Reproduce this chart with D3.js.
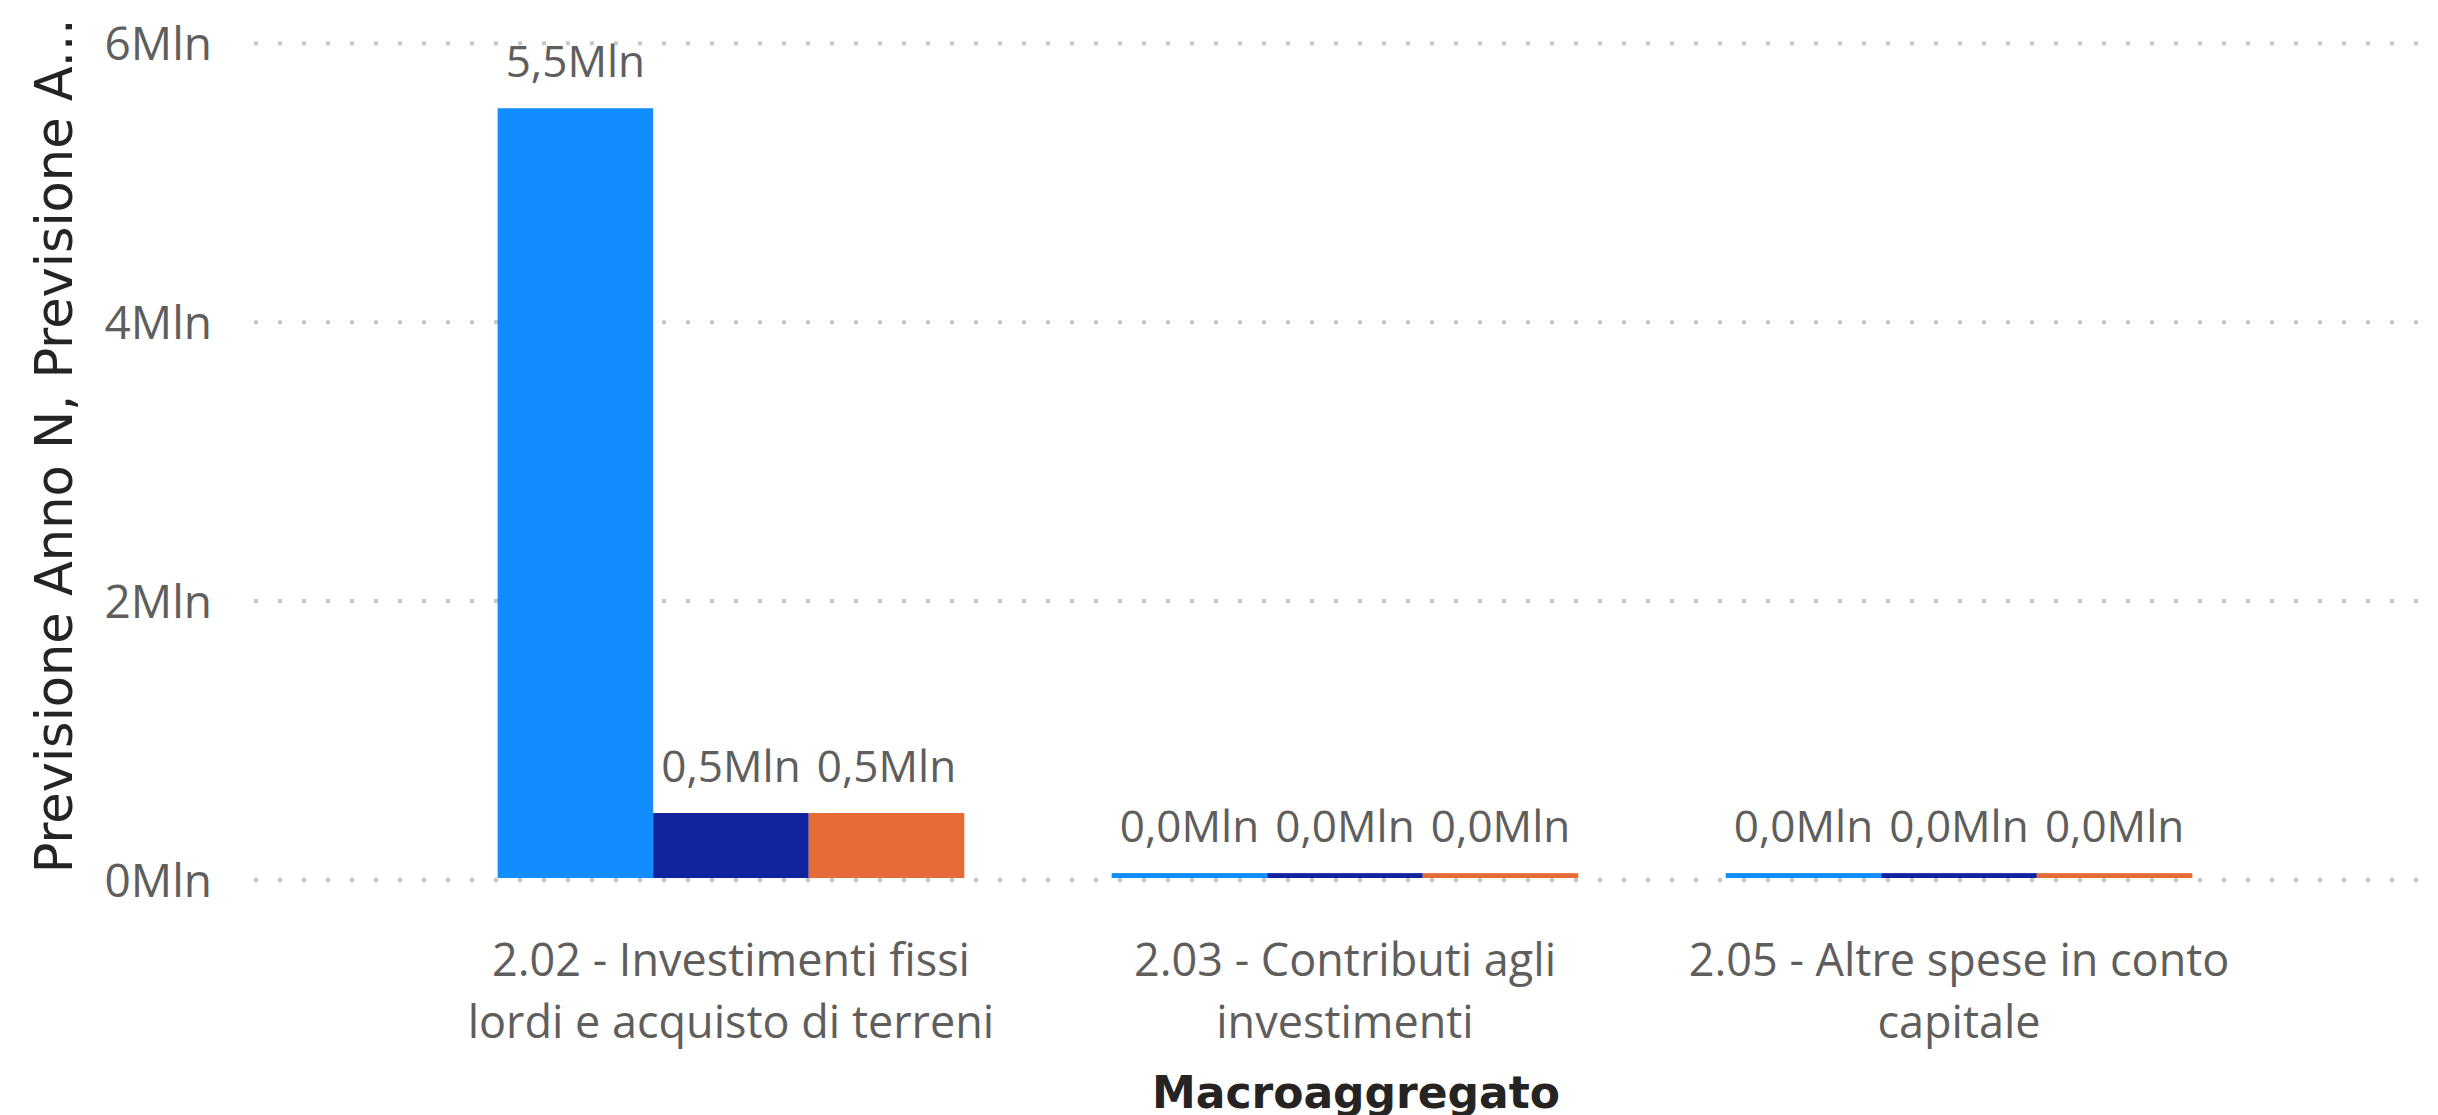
<!DOCTYPE html>
<html>
<head>
<meta charset="utf-8">
<script src="https://cdn.jsdelivr.net/npm/d3@7"></script>
<style>
    body { margin: 0; background: #fff; }
    svg { display: block; }
</style>
</head>
<body>
<div id="chart"></div>
<script>
const categories = [
    "2.02 - Investimenti fissi lordi e acquisto di terreni",
    "2.03 - Contributi agli investimenti",
    "2.05 - Altre spese in conto capitale"
];
const seriesNames = ["Previsione Anno N", "Previsione Anno N+1", "Previsione Anno N+2"];
const annoN = [5520000, 35000, 35000];
const annoN1 = [466000, 35000, 35000];
const annoN2 = [466000, 35000, 35000];
const yTicks = [0, 2000000, 4000000, 6000000];
const colors = ["#118DFF", "#12239E", "#E66C37"];

const seriesValues = [annoN, annoN1, annoN2];

document.addEventListener('DOMContentLoaded', function() {
    const width = 2438;
    const height = 1115;

    const it = d3.formatLocale({ decimal: ",", thousands: ".", grouping: [3], currency: ["€", ""] });
    const fmtLabel = v => it.format(".1f")(v / 1e6) + "Mln";
    const fmtTick = v => it.format(".0f")(v / 1e6) + "Mln";

    const svg = d3.select("#chart")
        .append("svg")
        .attr("width", width)
        .attr("height", height);

    const xScale = d3.scaleBand()
        .domain(categories)
        .range([252, width])
        .paddingInner(0.24)
        .paddingOuter(0.4);

    const xSub = d3.scaleBand()
        .domain(seriesNames)
        .range([0, xScale.bandwidth()]);

    const yScale = d3.scaleLinear()
        .domain([0, 6000000])
        .range([878, 41.3]);

    // dotted gridlines
    svg.append("g")
        .selectAll("line")
        .data(yTicks)
        .enter().append("line")
        .attr("x1", 254)
        .attr("x2", width)
        .attr("y1", d => yScale(d) + 2)
        .attr("y2", d => yScale(d) + 2)
        .style("stroke", "#C8C8C8")
        .style("stroke-width", 4)
        .style("stroke-dasharray", "4,20");

    // y tick labels
    svg.append("g")
        .selectAll("text")
        .data(yTicks)
        .enter().append("text")
        .attr("x", 212)
        .attr("y", d => yScale(d) + 2)
        .attr("dy", "0.36em")
        .style("text-anchor", "end")
        .style("font-family", "'Segoe UI', 'Open Sans', sans-serif")
        .style("font-size", "46px")
        .style("fill", "#605E5C")
        .text(fmtTick);

    // bars
    const rows = [];
    categories.forEach((c, i) => {
        seriesNames.forEach((s, j) => {
            rows.push({ cat: c, series: s, value: seriesValues[j][i], color: colors[j] });
        });
    });

    const groups = svg.append("g");

    groups.selectAll(".bar")
        .data(rows)
        .enter().append("rect")
        .attr("class", "bar")
        .attr("x", d => xScale(d.cat) + xSub(d.series))
        .attr("y", d => yScale(d.value))
        .attr("width", xSub.bandwidth())
        .attr("height", d => yScale(0) - yScale(d.value))
        .style("fill", d => d.color);

    groups.selectAll(".label")
        .data(rows)
        .enter().append("text")
        .attr("class", "label")
        .attr("x", d => xScale(d.cat) + xSub(d.series) + xSub.bandwidth() / 2)
        .attr("y", d => yScale(d.value) - 31)
        .style("text-anchor", "middle")
        .style("font-family", "'Segoe UI', 'Open Sans', sans-serif")
        .style("font-size", "44px")
        .style("fill", "#605E5C")
        .text(d => fmtLabel(d.value));

    // category labels, wrapped to the band step
    const catText = svg.append("g")
        .selectAll("text")
        .data(categories)
        .enter().append("text")
        .attr("x", d => xScale(d) + xScale.bandwidth() / 2)
        .attr("y", 976)
        .style("text-anchor", "middle")
        .style("font-family", "'Segoe UI', 'Open Sans', sans-serif")
        .style("font-size", "45px")
        .style("fill", "#605E5C");

    const maxW = xScale.step() * 0.92;
    catText.each(function(d) {
        const text = d3.select(this);
        const words = d.split(" ");
        const cx = text.attr("x");
        let line = [];
        let tspan = text.append("tspan").attr("x", cx).attr("dy", 0);
        words.forEach(w => {
            line.push(w);
            tspan.text(line.join(" "));
            if (tspan.node().getComputedTextLength() > maxW && line.length > 1) {
                line.pop();
                tspan.text(line.join(" "));
                line = [w];
                tspan = text.append("tspan").attr("x", cx).attr("dy", 62).text(w);
            }
        });
    });

    // axis titles
    svg.append("text")
        .attr("x", 1356)
        .attr("y", 1108)
        .style("text-anchor", "middle")
        .style("font-family", "'DejaVu Sans', sans-serif")
        .style("font-weight", "bold")
        .style("font-size", "44px")
        .style("fill", "#252423")
        .text("Macroaggregato");

    svg.append("text")
        .attr("transform", "translate(72, 446) rotate(-90)")
        .style("text-anchor", "middle")
        .style("font-family", "'DejaVu Sans', sans-serif")
        .style("font-size", "51px")
        .style("fill", "#252423")
        .text("Previsione Anno N, Previsione A...");
});
</script>
</body>
</html>
